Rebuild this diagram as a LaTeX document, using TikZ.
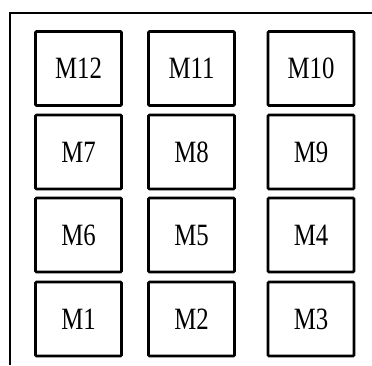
\documentclass[tikz,border=0pt]{standalone}
\usepackage{fontspec}
\setmainfont{Liberation Serif}[FakeStretch=0.8]
\begin{document}
\begin{tikzpicture}[x=1pt,y=-1pt,
  modbox/.style={draw=black, line width=2.6pt, rounded corners=1pt, minimum width=86pt, minimum height=74pt, inner sep=0pt, font=\fontsize{31}{31}\selectfont},
  frameline/.style={draw=black, line width=2.4pt}]
\useasboundingbox (0,0) rectangle (372,365);
\coordinate (tr) at (372,13);
\coordinate (tl) at (10,13);
\coordinate (bl) at (10,365);
\draw[frameline] (tr) -- (tl) -- (bl);
% row 1
\node[modbox] (m12) at (78.5,68.5) {M12};
\node[modbox] (m11) at (191.5,68.5) {M11};
\node[modbox] (m10) at (311,68.5) {M10};
% row 2
\node[modbox] (m7) at (78.5,152) {M7};
\node[modbox] (m8) at (191.5,152) {M8};
\node[modbox] (m9) at (311,152) {M9};
% row 3
\node[modbox] (m6) at (78.5,235) {M6};
\node[modbox] (m5) at (191.5,235) {M5};
\node[modbox] (m4) at (311,235) {M4};
% row 4
\node[modbox] (m1) at (78.5,319) {M1};
\node[modbox] (m2) at (191.5,319) {M2};
\node[modbox] (m3) at (311,319) {M3};
\end{tikzpicture}
\end{document}
